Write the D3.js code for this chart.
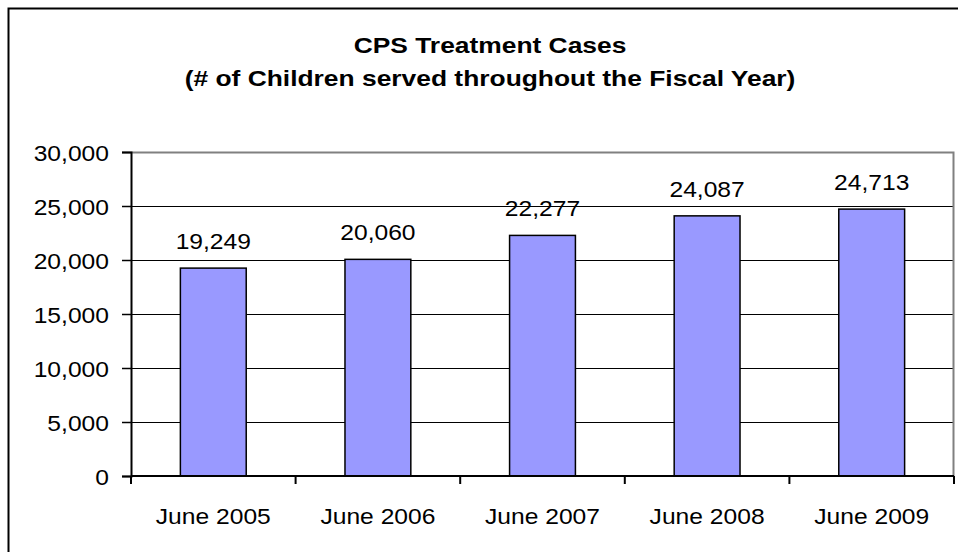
<!DOCTYPE html>
<html>
<head>
<meta charset="utf-8">
<script src="https://cdn.jsdelivr.net/npm/d3@7"></script>
<style>
  html, body { margin: 0; padding: 0; background: #fff; }
  svg { display: block; }
  text { font-family: "Liberation Sans", Arial, sans-serif; fill: #000; }
</style>
</head>
<body>
<svg id="chart" width="958" height="552"></svg>
<script>
// CPS treatment cases by fiscal year
const categories = ["June 2005", "June 2006", "June 2007", "June 2008", "June 2009"];
const childrenServed = [19249, 20060, 22277, 24087, 24713];
const yTicks = [0, 5000, 10000, 15000, 20000, 25000, 30000];
const titleLines = ["CPS Treatment Cases", "(# of Children served throughout the Fiscal Year)"];

const W = 958, H = 552;
const plot = { left: 131, right: 954, top: 152, bottom: 476 };
const fontSize = 22;
const sx = 1.12;       // horizontal text stretch for labels
const titleSize = 22;
const titleSx = 1.2;
const fmt = d3.format(",");

const svg = d3.select("#chart");

// chart frame (extends past right/bottom edge)
svg.append("rect")
  .attr("x", 8.5).attr("y", 8.5)
  .attr("width", W + 10).attr("height", H + 10)
  .attr("fill", "#fff").attr("stroke", "#000").attr("stroke-width", 2);

// helper: place stretched text at (x, y)
function stretchedText(parent, x, y, str, anchor, weight, size, stretch) {
  const g = parent.append("g")
    .attr("transform", `translate(${x},${y}) scale(${stretch || sx},1)`);
  return g.append("text")
    .attr("text-anchor", anchor)
    .attr("font-size", size || fontSize)
    .attr("font-weight", weight || "normal")
    .text(str);
}

// title
const titleX = 490;
stretchedText(svg, titleX, 53, titleLines[0], "middle", "bold", titleSize, titleSx);
stretchedText(svg, titleX, 86, titleLines[1], "middle", "bold", titleSize, titleSx);

const x = d3.scaleBand()
  .domain(categories)
  .range([plot.left, plot.right])
  .paddingInner(0.6)
  .paddingOuter(0.3);

const y = d3.scaleLinear()
  .domain([0, 30000])
  .range([plot.bottom, plot.top]);

// gridlines
svg.append("g")
  .selectAll("line")
  .data(yTicks.filter(d => d > 0 && d < 30000))
  .join("line")
  .attr("x1", plot.left).attr("x2", plot.right)
  .attr("y1", d => Math.round(y(d)) + 0.5).attr("y2", d => Math.round(y(d)) + 0.5)
  .attr("stroke", "#000").attr("stroke-width", 1.2);

// plot area border (top and right)
svg.append("path")
  .attr("d", `M${plot.left},${plot.top + 0.5}H${plot.right - 0.5}V${plot.bottom}`)
  .attr("fill", "none").attr("stroke", "#808080").attr("stroke-width", 2);

// bars
svg.append("g")
  .selectAll("rect")
  .data(childrenServed)
  .join("rect")
  .attr("x", (d, i) => x(categories[i]))
  .attr("y", d => y(d))
  .attr("width", x.bandwidth())
  .attr("height", d => y(0) - y(d))
  .attr("fill", "#9999FF")
  .attr("stroke", "#000")
  .attr("stroke-width", 1.5);

// value labels
childrenServed.forEach((d, i) => {
  stretchedText(svg, x(categories[i]) + x.bandwidth() / 2, y(d) - 19, fmt(d), "middle");
});

// y axis
const yAxis = svg.append("g")
  .attr("transform", `translate(${plot.left},0)`)
  .call(d3.axisLeft(y).tickValues(yTicks).tickFormat(fmt).tickSize(9).tickPadding(0));
yAxis.select(".domain").attr("stroke", "#000").attr("stroke-width", 2);
yAxis.selectAll(".tick line").attr("stroke", "#000").attr("stroke-width", 1.5);
yAxis.selectAll(".tick text").remove();
yAxis.selectAll(".tick").each(function (d) {
  stretchedText(d3.select(this), -22, 8, fmt(d), "end");
});

// x axis with ticks on category boundaries
const xAxis = svg.append("g").attr("transform", `translate(0,${plot.bottom})`);
xAxis.append("line")
  .attr("x1", plot.left).attr("x2", plot.right)
  .attr("stroke", "#000").attr("stroke-width", 2);
const boundaries = categories.map(c => x(c) - x.step() * x.paddingInner() / 2)
  .concat([plot.right]);
xAxis.selectAll("line.tick")
  .data(boundaries)
  .join("line")
  .attr("class", "tick")
  .attr("x1", d => d).attr("x2", d => d)
  .attr("y1", 0).attr("y2", 8)
  .attr("stroke", "#000").attr("stroke-width", 2);
categories.forEach(c => {
  stretchedText(xAxis, x(c) + x.bandwidth() / 2, 48, c, "middle");
});
</script>
</body>
</html>
